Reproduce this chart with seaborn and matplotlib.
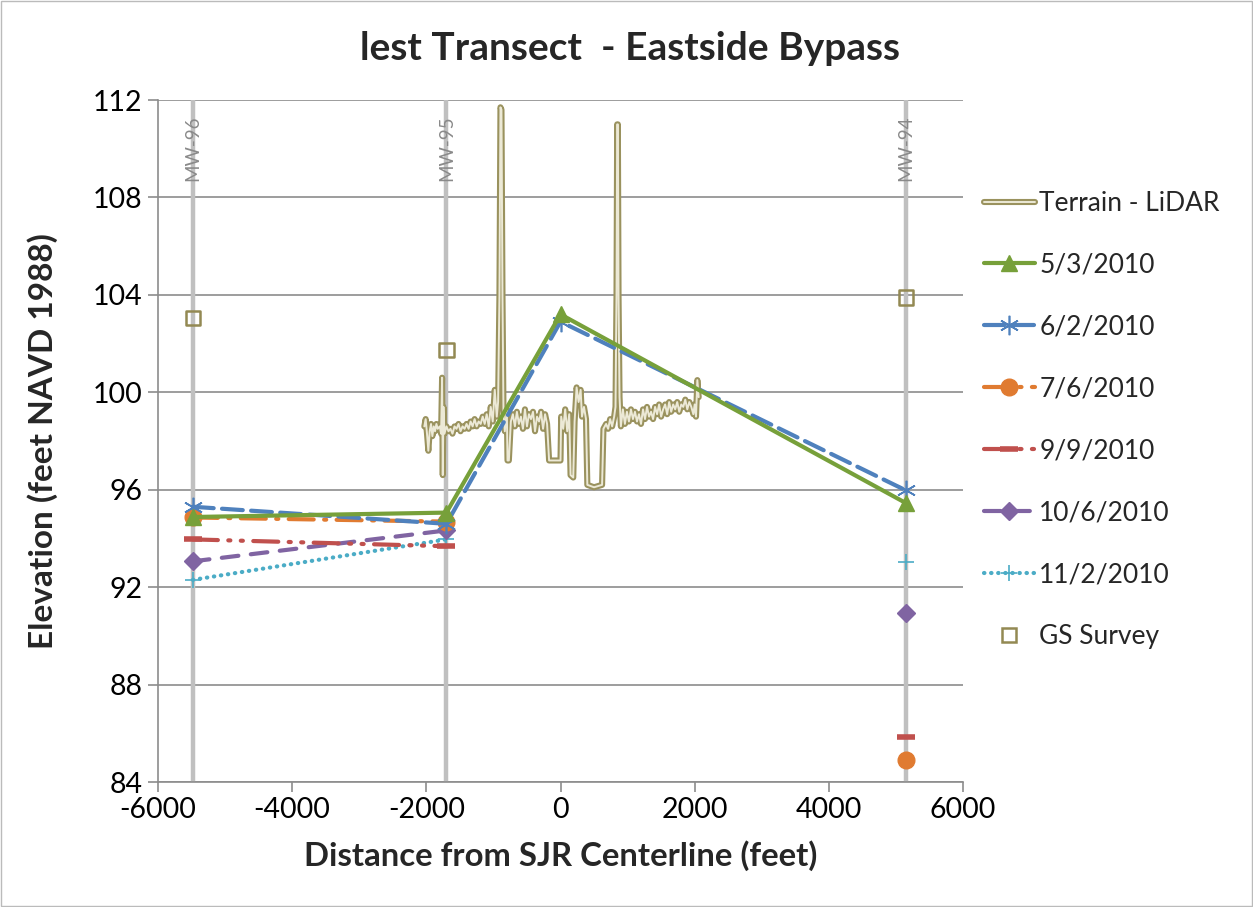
import numpy as np
import pandas as pd
import matplotlib
matplotlib.use("Agg")
import matplotlib.pyplot as plt
from matplotlib.lines import Line2D
from matplotlib.patches import Rectangle
import seaborn as sns

# ---------------- data ----------------
title = "lest Transect  - Eastside Bypass"
well_names = ["MW-96", "MW-95", "MW-94"]
well_x = [-5480, -1700, 5150]
obs_x = [-5480, -1700, 0, 5150]

nan = np.nan
s_0503 = [94.88, 95.06, 103.2, 95.45]
s_0602 = [95.30, 94.60, 102.9, 95.97]
s_0706 = [94.86, 94.69, nan, 84.90]
s_0909 = [93.96, 93.68, nan, 85.83]
s_1006 = [93.06, 94.33, nan, 90.93]
s_1102 = [92.30, 93.96, nan, 93.03]

gs_x = [-5480, -1700, 5150]
gs_y = [103.05, 101.74, 103.88]

terrain_x = [-2030, -2010, -1990, -1970, -1950, -1930, -1910, -1890, -1870, -1850,
             -1830, -1800, -1780, -1765, -1755, -1745, -1730, -1700, -1670, -1640,
             -1610, -1580, -1550, -1520, -1490, -1460, -1430, -1400, -1370, -1340,
             -1310, -1280, -1250, -1220, -1190, -1160, -1130, -1100, -1070, -1040,
             -1010, -980, -950, -930, -910, -895, -880, -865, -850, -830,
             -800, -790, -770, -740, -710, -680, -650, -620, -590, -560,
             -530, -500, -470, -440, -410, -380, -350, -320, -290, -260,
             -230, -200, -170, -100, -40, 0, 10, 40, 70, 100,
             130, 150, 190, 210, 240, 270, 300, 320, 350, 380,
             400, 500, 620, 640, 680, 710, 740, 770, 800, 820,
             835, 845, 855, 865, 880, 900, 930, 960, 990, 1020,
             1050, 1080, 1110, 1140, 1170, 1200, 1230, 1260, 1290, 1320,
             1350, 1380, 1410, 1440, 1470, 1500, 1530, 1560, 1590, 1620,
             1650, 1680, 1710, 1740, 1770, 1800, 1830, 1860, 1890, 1920,
             1950, 1980, 2000, 2020, 2040, 2060]
terrain_y = [98.6, 98.9, 98.3, 97.6, 98.4, 98.7, 98.2, 98.6, 98.4, 98.7,
             98.5, 98.6, 98.3, 100.6, 96.6, 99.4, 98.3, 98.6, 98.4, 98.5,
             98.3, 98.6, 98.5, 98.7, 98.4, 98.6, 98.5, 98.7, 98.5, 98.8,
             98.6, 98.9, 98.6, 98.8, 98.7, 99.0, 98.7, 99.1, 98.6, 99.4,
             98.8, 100.1, 99.0, 99.6, 104.0, 111.7, 111.6, 104.0, 99.2, 98.4,
             99.3, 97.2, 97.2, 98.8, 99.1, 98.6, 99.2, 98.7, 99.0, 98.5,
             99.3, 98.6, 99.1, 98.9, 99.2, 98.4, 99.0, 98.8, 99.2, 98.5,
             99.1, 98.7, 97.2, 97.2, 97.2, 97.2, 99.0, 98.5, 99.3, 98.4,
             99.1, 96.6, 96.5, 98.8, 100.2, 99.6, 100.1, 99.0, 99.4, 98.9,
             96.2, 96.1, 96.2, 98.5, 98.7, 98.5, 98.9, 98.6, 99.0, 99.4,
             104.0, 111.0, 111.0, 104.0, 99.8, 98.6, 99.3, 98.7, 99.2, 98.8,
             99.3, 98.9, 99.2, 98.8, 99.1, 98.7, 99.3, 98.9, 99.4, 99.0,
             99.2, 98.9, 99.4, 99.1, 99.5, 99.0, 99.3, 99.5, 99.1, 99.6,
             99.2, 99.5, 99.3, 99.6, 99.2, 99.5, 99.4, 99.7, 99.3, 99.6,
             99.4, 99.1, 99.5, 99.0, 100.5, 99.8]

x_ticks = [-6000, -4000, -2000, 0, 2000, 4000, 6000]
y_ticks = [84, 88, 92, 96, 100, 104, 108, 112]

# ---------------- style ----------------
sns.set_theme(style="white")
plt.rcParams["font.family"] = ["Lato", "DejaVu Sans"]
plt.rcParams["axes.unicode_minus"] = False

fig = plt.figure(figsize=(12.53, 9.07), dpi=100)
ax = fig.add_axes([158 / 1253, 1 - 782 / 907, (963 - 158) / 1253, (782 - 100) / 907])

grid_c = "#8C8C8C"
ax.set_xlim(-6000, 6000)
ax.set_ylim(84, 112)
ax.set_xticks(x_ticks)
ax.set_yticks(y_ticks)
ax.yaxis.grid(True, color=grid_c, lw=1.2)
ax.xaxis.grid(False)
for s in ["top", "right"]:
    ax.spines[s].set_visible(False)
for s in ["left", "bottom"]:
    ax.spines[s].set_color(grid_c)
    ax.spines[s].set_linewidth(1.2)
ax.tick_params(axis="both", direction="out", length=7, width=1.2, color=grid_c,
               labelsize=20.5, labelcolor="black", pad=4)
ax.tick_params(axis="y", left=True)
ax.tick_params(axis="x", bottom=True)
ax.set_axisbelow(True)

# well lines
for wx, wn in zip(well_x, well_names):
    ax.axvline(wx, color="#C0C0C0", lw=3.2, zorder=1)
    ax.text(wx, 111.35, wn, rotation=90, ha="center", va="top", fontsize=13.5,
            color="#8A8A8A", zorder=2)

# terrain (double line)
terr_outer = "#9A925E"
terr_inner = "#ECE9D6"
sns.lineplot(x=terrain_x, y=terrain_y, ax=ax, sort=False, estimator=None,
             color=terr_outer, lw=4.4, zorder=3, solid_joinstyle="round")
sns.lineplot(x=terrain_x, y=terrain_y, ax=ax, sort=False, estimator=None,
             color=terr_inner, lw=1.4, zorder=3.1, solid_joinstyle="round")

series = [
    ("5/3/2010", s_0503, "#77A03A", "-", "^", 12, 1.0),
    ("6/2/2010", s_0602, "#4F81BD", (0, (5, 2)), (6, 2, 0), 14, 1.2),
    ("7/6/2010", s_0706, "#E07B31", (0, (6, 2.5, 0.5, 2.5)), "o", 12, 1.0),
    ("9/9/2010", s_0909, "#C0504D", (0, (6, 2.5, 0.5, 2.5, 0.5, 2.5)), "_", 13, 4.0),
    ("10/6/2010", s_1006, "#8064A2", (0, (4, 3)), "D", 9, 1.0),
    ("11/2/2010", s_1102, "#4BACC6", (0, (0.1, 1.6)), "+", 12, 1.2),
]
lw_series = 3.0


def runs(xs, ys):
    out, cx, cy = [], [], []
    for xv, yv in zip(xs, ys):
        if np.isnan(yv):
            if cx:
                out.append((cx, cy))
            cx, cy = [], []
        else:
            cx.append(xv)
            cy.append(yv)
    if cx:
        out.append((cx, cy))
    return out


handles = []
for i, (lab, ys, col, ls, mk, ms, mew) in enumerate(series):
    for rx, ry in runs(obs_x, ys):
        sns.lineplot(x=rx, y=ry, ax=ax, sort=False, estimator=None, color=col,
                     lw=lw_series, linestyle=ls, marker=mk, markersize=ms,
                     markeredgecolor=col, markerfacecolor=col, markeredgewidth=mew,
                     dash_capstyle="round", solid_capstyle="round",
                     zorder=5 - i * 0.1)
    handles.append(Line2D([], [], color=col, lw=lw_series, linestyle=ls, marker=mk,
                          markersize=ms, markeredgecolor=col, markerfacecolor=col,
                          markeredgewidth=mew, dash_capstyle="round"))

sns.scatterplot(x=gs_x, y=gs_y, ax=ax, marker="s", s=110, facecolor="none",
                edgecolor="#938953", linewidth=1.8, zorder=6)

fig.text(630 / 1253, 1 - 48 / 907, title, fontsize=28, fontweight="bold",
         ha="center", va="center")
ax.set_xlabel("Distance from SJR Centerline (feet)", fontsize=23.7, fontweight="bold",
              labelpad=12)
ax.set_ylabel("Elevation (feet NAVD 1988)", fontsize=24, fontweight="bold",
              labelpad=25)

terr_h = (Line2D([], [], color=terr_outer, lw=4.4), Line2D([], [], color=terr_inner, lw=1.4))
gs_h = Line2D([], [], color="none", marker="s", markersize=10, markerfacecolor="none",
              markeredgecolor="#938953", markeredgewidth=1.8)
all_handles = [terr_h] + handles + [gs_h]
all_labels = ["Terrain - LiDAR"] + [s[0] for s in series] + ["GS Survey"]
fig.legend(all_handles, all_labels, loc="upper left",
           bbox_to_anchor=(960 / 1253, 1 - 167 / 907), frameon=False, fontsize=19,
           handlelength=1.95, handletextpad=0.15, labelspacing=1.40)

fig.patches.append(Rectangle((0.001, 0.001), 0.998, 0.998, transform=fig.transFigure,
                             fill=False, edgecolor="#BBBBBB", lw=1))

fig.savefig("out.png", dpi=100)
